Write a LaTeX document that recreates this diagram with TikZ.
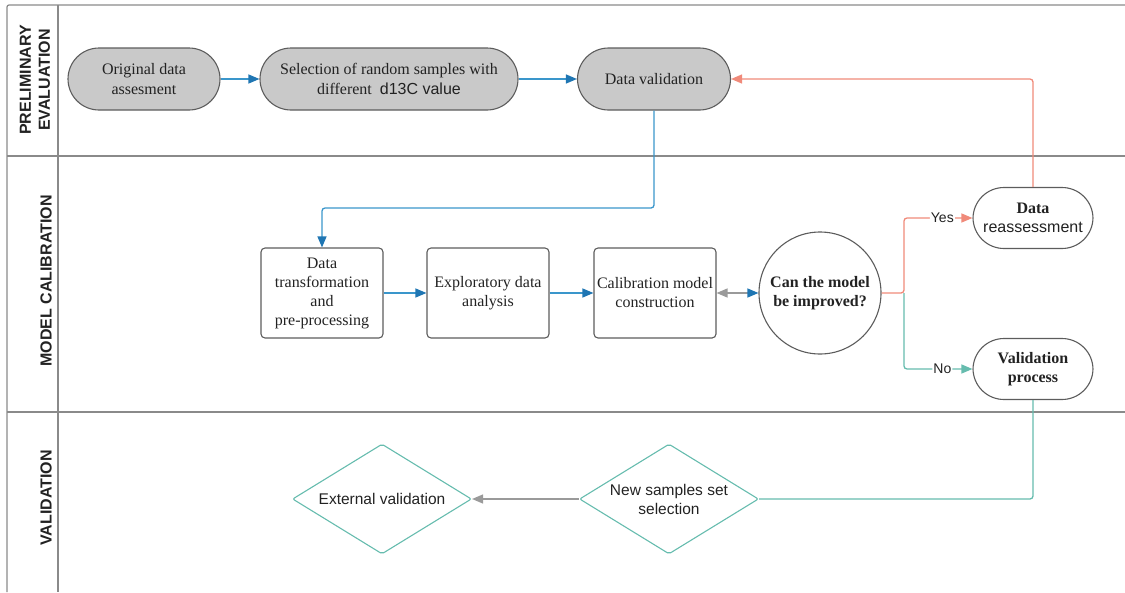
\documentclass[tikz,border=0pt]{standalone}
\usepackage{fontspec}
\setmainfont{Liberation Serif}
\setsansfont{Liberation Sans}
\usetikzlibrary{arrows.meta,shapes.geometric}

\definecolor{lanegray}{HTML}{8A8A8A}
\definecolor{nodegray}{HTML}{5C5C5C}
\definecolor{fillgray}{HTML}{C9C9C9}
\definecolor{textdark}{HTML}{222222}
\definecolor{lineblue}{HTML}{3A96CB}
\definecolor{tipblue}{HTML}{1F76B3}
\definecolor{salmon}{HTML}{F08A7A}
\definecolor{teal}{HTML}{66BCAE}
\definecolor{arrowgray}{HTML}{9A9A9A}

\begin{document}
\begin{tikzpicture}[x=1pt,y=-1pt,
  lane/.style={draw=lanegray,line width=1.2pt},
  lanelabel/.style={rotate=90,align=center,text=textdark,font=\sffamily\bfseries\fontsize{16}{19}\selectfont},
  stadium/.style={draw=nodegray,line width=1.1pt,rounded corners=31pt,minimum height=62pt,
    align=center,text=textdark,font=\fontsize{16}{19.5}\selectfont},
  procbox/.style={draw=nodegray,line width=1.1pt,rounded corners=4pt,minimum width=122pt,
    minimum height=90pt,inner sep=2pt,align=center,text=textdark,font=\fontsize{16}{19}\selectfont},
  decision/.style={diamond,draw=teal,line width=1.1pt,rounded corners=2pt,aspect=1.63,
    minimum width=179pt,minimum height=110pt,inner sep=1pt,align=center,text=textdark,
    font=\sffamily\fontsize{15.5}{19}\selectfont},
  arrowlabel/.style={fill=white,inner sep=1pt,text=textdark,font=\sffamily\fontsize{14}{14}\selectfont},
  bluearrow/.style={draw=lineblue,line width=1.3pt,-{Triangle[length=11pt,width=9pt,color=tipblue]}},
  redarrow/.style={draw=salmon,line width=1.3pt,-{Triangle[length=11pt,width=9pt]}},
  tealarrow/.style={draw=teal,line width=1.3pt,-{Triangle[length=11pt,width=9pt]}},
  grayarrow/.style={draw=arrowgray,line width=1.3pt,-{Triangle[length=11pt,width=9pt]}}]

\useasboundingbox (0,0) rectangle (1125,592);

  % swimlanes
  \draw[lane,rounded corners=2pt] (1125,5) -- (7,5) -- (7,592);
  \draw[lane] (58,5) -- (58,592);
  \draw[lane] (7,156) -- (1125,156);
  \draw[lane] (7,412) -- (1125,412);

  \node[lanelabel] (lprelim) at (35,80) {PRELIMINARY\\EVALUATION};
  \node[lanelabel] (lcalib) at (46,281) {MODEL CALIBRATION};
  \node[lanelabel] (lvalid) at (46,498) {VALIDATION};

  % preliminary evaluation
  \node[stadium,fill=fillgray,minimum width=152pt] (orig) at (144,79) {Original data\\assesment};
  \node[stadium,fill=fillgray,minimum width=258pt] (sel) at (389,79)
    {Selection of random samples with\\different \ {\sffamily d13C value}};
  \node[stadium,fill=fillgray,minimum width=153pt] (dval) at (654,79) {Data validation};

  % model calibration
  \node[procbox] (trans) at (322,293) {Data\\transformation\\and\\pre-processing};
  \node[procbox] (explo) at (488,293) {Exploratory data\\analysis};
  \node[procbox] (calib) at (655,293) {Calibration model\\construction};
  \node[circle,draw=nodegray,line width=1.1pt,minimum size=122pt,align=center,text=textdark,
    font=\bfseries\fontsize{16}{19.5}\selectfont] (improve) at (820,293) {Can the model\\be improved?};
  \node[stadium,fill=white,minimum width=120pt,minimum height=61pt] (reass) at (1033,218)
    {\textbf{Data}\\{\sffamily reassessment}};
  \node[stadium,fill=white,minimum width=120pt,minimum height=61pt] (valid) at (1033,369)
    {\textbf{Validation}\\\textbf{process}};
  \coordinate (split) at (904,293);

  % validation
  \node[decision] (newsel) at (669,499) {New samples set\\selection};
  \node[decision] (extval) at (382,499) {External validation};

  \draw[bluearrow] (orig) -- (sel);
  \draw[bluearrow] (sel) -- (dval);
  \draw[bluearrow,rounded corners=3pt] (dval.south) -- (dval.south |- 0,208) -| (trans.north);
  \draw[bluearrow] (trans) -- (explo);
  \draw[bluearrow] (explo) -- (calib);
  \draw[draw=arrowgray,line width=1.3pt,
    {Triangle[length=11pt,width=9pt]}-{Triangle[length=11pt,width=9pt,color=tipblue]}] (calib) -- (improve);
  \draw[redarrow,rounded corners=3pt] (improve.east) -- (split) |- (reass.west)
    node[arrowlabel,pos=0.78] {Yes};
  \draw[tealarrow,rounded corners=3pt] (split) |- (valid.west)
    node[arrowlabel,pos=0.78] {No};
  \draw[redarrow,rounded corners=3pt] (reass.north) |- (dval.east);
  \draw[draw=teal,line width=1.3pt,rounded corners=3pt] (valid.south) |- (newsel.east);
  \draw[grayarrow] (newsel) -- (extval);
\end{tikzpicture}
\end{document}
